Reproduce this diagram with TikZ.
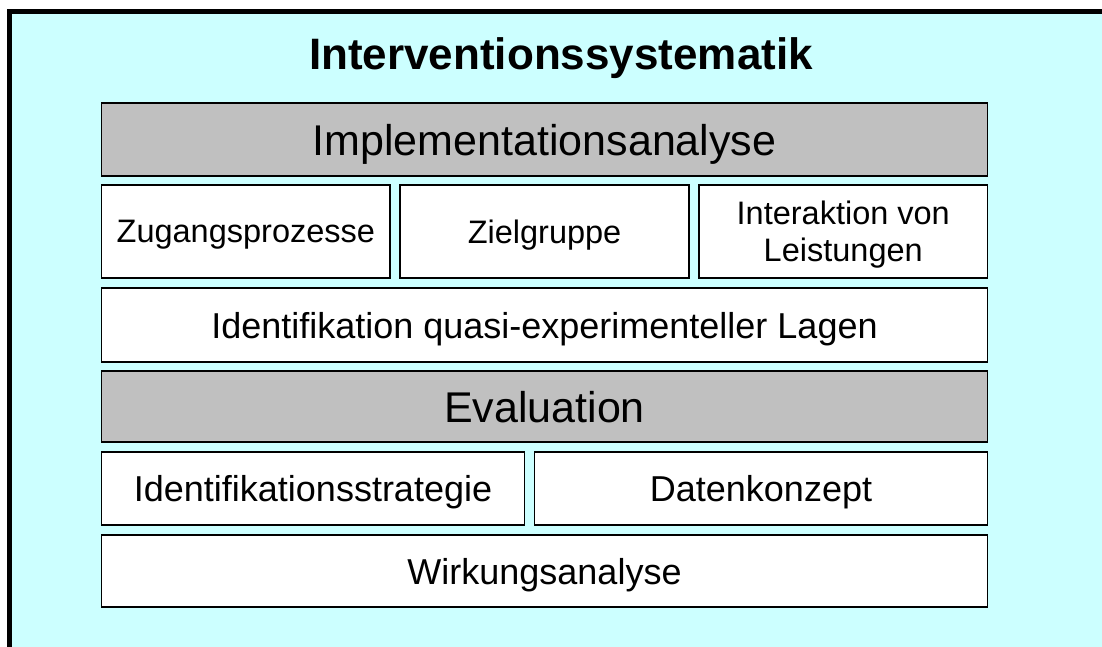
\documentclass[tikz,border=0pt]{standalone}
\usepackage{fontspec}
\setmainfont{Liberation Sans}
\usepackage{tikz}
\usetikzlibrary{positioning}
\definecolor{lightcyan}{RGB}{204, 255, 255}
\definecolor{headgray}{RGB}{192, 192, 192}
\tikzstyle{head} = [rectangle, draw=black, line width=1.5pt, fill=headgray, text=black, text centered, text depth=0pt, font=\fontsize{43}{48}\selectfont, minimum width=886pt, inner sep=0pt, outer sep=0pt]
\tikzstyle{cell} = [rectangle, draw=black, line width=1.5pt, fill=white, text=black, align=center, text depth=0pt, font=\fontsize{36}{41}\selectfont, inner sep=0pt, outer sep=0pt]
\tikzstyle{small} = [font=\fontsize{32.5}{37}\selectfont]
\tikzstyle{textonly} = [draw=none, fill=none, text centered, font=\bfseries\fontsize{44}{50}\selectfont]

\begin{document}
\begin{tikzpicture}[x=1pt, y=-1pt]

\useasboundingbox (0,0) rectangle (1102,646);
\fill[lightcyan] (9.5,11) rectangle (1120,670);
\draw[line width=5pt] (9.5,670) -- (9.5,11) -- (1120,11);

% title ==================================
\node[textonly, anchor=base] (title) at (561,69) {Interventionssystematik};

% implementation part
\node[head, minimum height=73pt] (impl) at (544.5,139.5) {Implementationsanalyse};
\node[cell, small, minimum width=288.7pt, minimum height=93pt, below right=9pt and 0pt of impl.south west] (zug) {Zugangsprozesse};
\node[cell, small, minimum width=288.7pt, minimum height=93pt, right=10pt of zug] (ziel) {Zielgruppe};
\node[cell, small, minimum width=288.7pt, minimum height=93pt, right=10pt of ziel] (inter) {Interaktion von\\Leistungen};
\node[cell, minimum width=886pt, minimum height=74pt, below right=10pt and 0pt of zug.south west] (ident) {Identifikation quasi-experimenteller Lagen};

% evaluation part
\node[head, minimum height=71pt, below=9pt of ident] (eval) {Evaluation};
\node[cell, minimum width=423pt, minimum height=73pt, below right=10pt and 0pt of eval.south west] (strat) {Identifikationsstrategie};
\node[cell, minimum width=453pt, minimum height=73pt, right=10pt of strat] (daten) {Datenkonzept};
\node[cell, minimum width=886pt, minimum height=72pt, below right=10pt and 0pt of strat.south west] (wirk) {Wirkungsanalyse};

\end{tikzpicture}
\end{document}
